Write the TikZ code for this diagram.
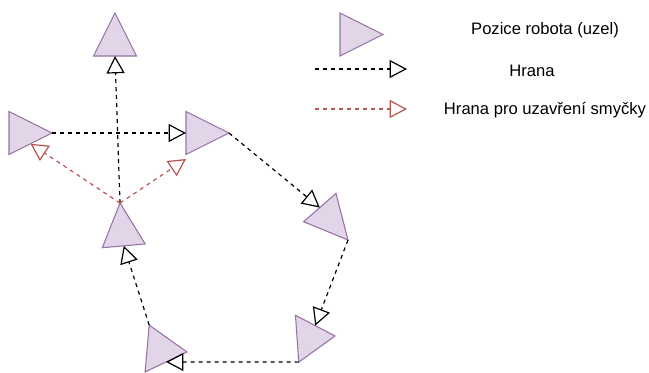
\documentclass[tikz,border=0pt]{standalone}
\usepackage{fontspec}
\setmainfont{Liberation Sans}
\usetikzlibrary{arrows.meta,shapes.geometric,calc}
\definecolor{nodefill}{HTML}{E1D5E7}
\definecolor{nodedraw}{HTML}{9673A6}
\definecolor{loopred}{HTML}{B85450}
\begin{document}
\begin{tikzpicture}[x=0.75pt,y=-0.75pt,
  robot/.style={isosceles triangle, isosceles triangle stretches, draw=nodedraw, fill=nodefill,
    line width=0.8pt, inner sep=0pt, outer sep=0pt, minimum width=32.25pt, minimum height=32.25pt},
  linkedge/.style={draw=black, line width=0.9pt, dash pattern=on 3pt off 3pt,
    -{Triangle[open,length=13pt,width=13.5pt]}},
  loopedge/.style={linkedge, draw=loopred},
  legendtext/.style={font=\fontsize{12.45pt}{15pt}\selectfont, text=black, inner sep=0pt}]
\useasboundingbox (0,0) rectangle (649,372);
% robot positions
\node[robot, rotate=90, anchor=lower side] (T) at (115,56) {};
\node[robot, anchor=lower side] (A) at (9,133) {};
\node[robot, anchor=lower side] (B) at (186,133) {};
\node[robot, rotate=95, anchor=apex] (C) at (120,203) {};
\node[robot, rotate=-49, anchor=apex] (D) at (348,240) {};
\node[robot, rotate=4, anchor=apex, minimum width=35.25pt, minimum height=28.5pt] (E) at (335,336) {};
\node[robot, rotate=-5, anchor=apex, minimum width=35.25pt, minimum height=30pt] (F) at (187,352) {};
\coordinate (Bloop) at (186,159);
% edges
\draw[linkedge] (A.apex) -- (B.lower side);
\draw[linkedge] (C.apex) -- (T.lower side);
\draw[linkedge] (B.apex) -- (D.lower side);
\draw[linkedge] (D.apex) -- (E.left side);
\draw[linkedge] (E.right corner) -- (F.right side);
\draw[linkedge] (F.left corner) -- (C.lower side);
\draw[loopedge] (C.apex) -- (A.right side);
\draw[loopedge] (C.apex) -- (Bloop);
% legend
\node[robot, anchor=lower side] (L) at (340,34.5) {};
\node[legendtext] (t1) at (545,30) {Pozice robota (uzel)};
\coordinate (h1s) at (315,69);
\coordinate (h1e) at (407,69);
\draw[linkedge] (h1s) -- (h1e);
\node[legendtext] (t2) at (532,71) {Hrana};
\coordinate (h2s) at (315,109);
\coordinate (h2e) at (407,109);
\draw[loopedge] (h2s) -- (h2e);
\node[legendtext] (t3) at (545,110) {Hrana pro uzavření smyčky};
\end{tikzpicture}
\end{document}
